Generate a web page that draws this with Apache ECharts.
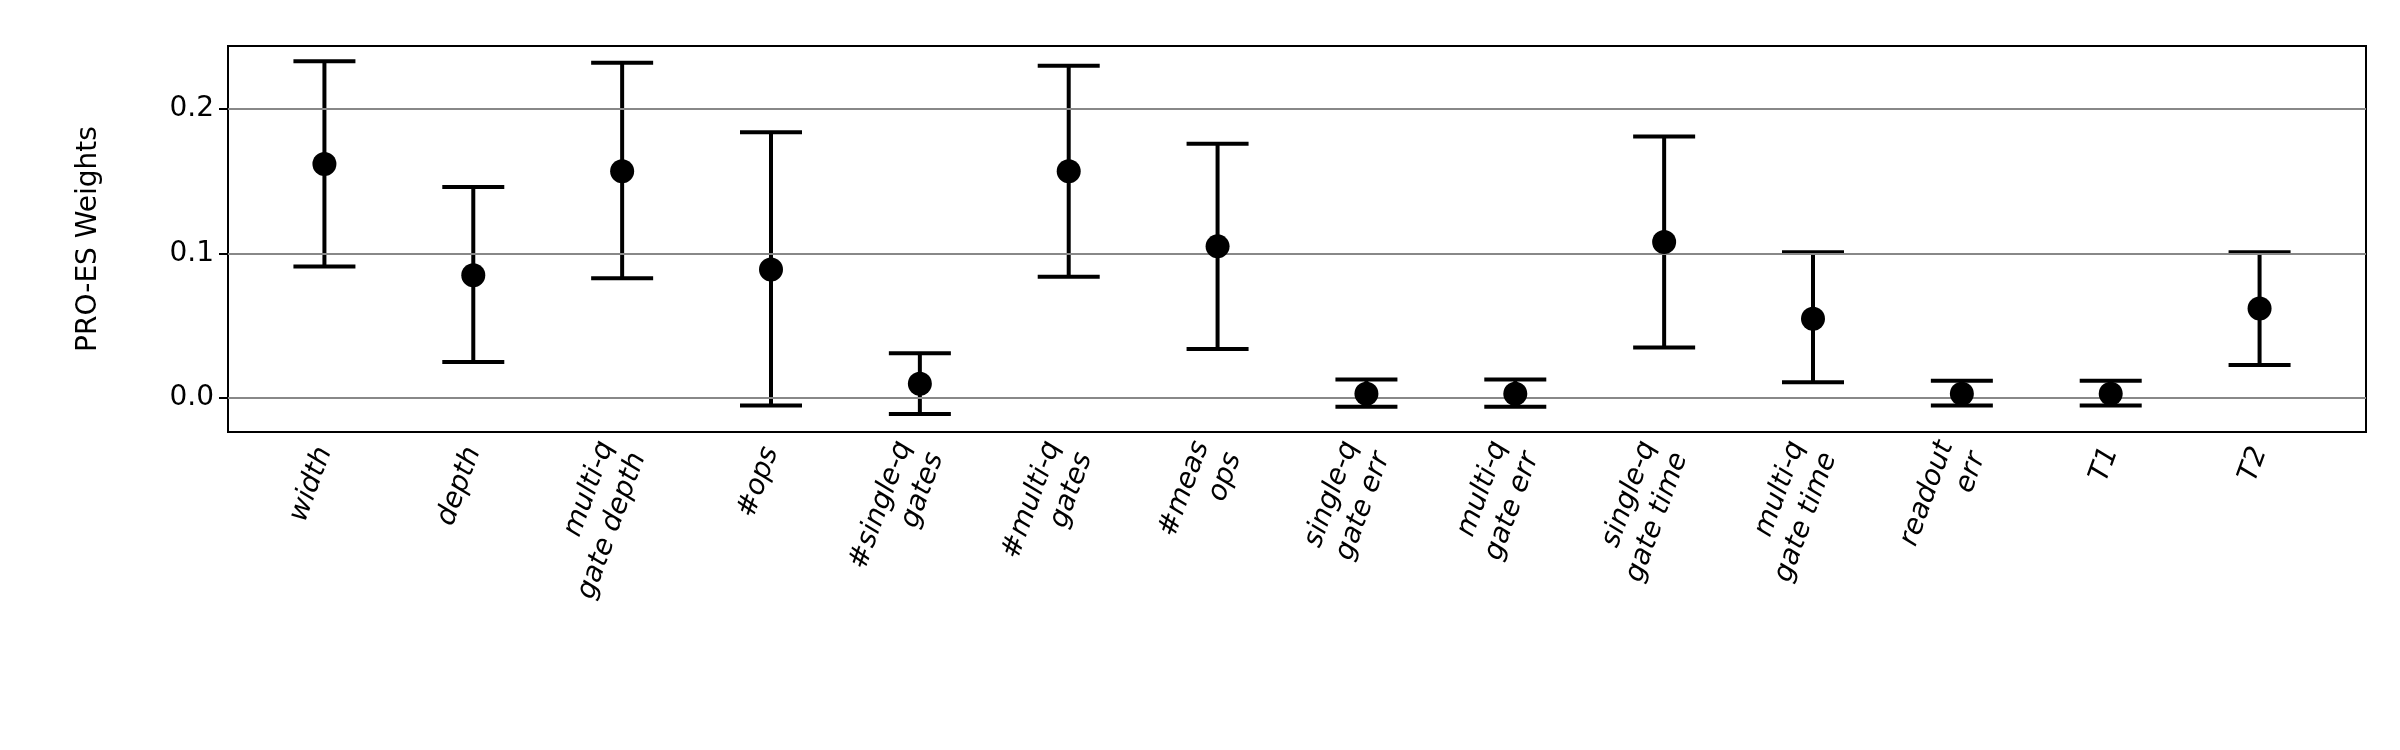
<!DOCTYPE html>
<html>
<head>
<meta charset="utf-8">
<script src="https://cdn.jsdelivr.net/npm/echarts@6/dist/echarts.min.js"></script>
<style>html,body{margin:0;background:#fff}#c{width:2400px;height:750px}</style>
</head>
<body>
<div id="c"></div>
<script>
// feature names
var features = ['width', 'depth', 'multi-q\ngate depth', '#ops', '#single-q\ngates', '#multi-q\ngates',
    '#meas\nops', 'single-q\ngate err', 'multi-q\ngate err', 'single-q\ngate time', 'multi-q\ngate time',
    'readout\nerr', 'T1', 'T2'];
// mean weight and error bar ends
var means = [0.162, 0.085, 0.157, 0.089, 0.010, 0.157, 0.105, 0.003, 0.003, 0.108, 0.055, 0.003, 0.003, 0.062];
var lows  = [0.091, 0.025, 0.083, -0.005, -0.011, 0.084, 0.034, -0.006, -0.006, 0.035, 0.011, -0.005, -0.005, 0.023];
var highs = [0.233, 0.146, 0.232, 0.184, 0.031, 0.230, 0.176, 0.013, 0.013, 0.181, 0.101, 0.012, 0.012, 0.101];
var yTicks = [0, 0.1, 0.2];

var yMin = -0.0234, yMax = 0.2436;
var errData = features.map(function (f, i) { return [i, lows[i], highs[i]]; });

var chart = echarts.init(document.getElementById('c'));
chart.setOption({
    animation: false,
    textStyle: {fontFamily: 'DejaVu Sans'},
    grid: [
        {left: 228, right: 34, top: 46, bottom: 318, show: true, borderColor: '#000', borderWidth: 2, backgroundColor: 'transparent'},
        {left: 250, right: 66, top: 46, bottom: 318}
    ],
    xAxis: [
        {gridIndex: 0, type: 'value', min: 0, max: 1, show: false},
        {
            gridIndex: 1, type: 'category', data: features, boundaryGap: true,
            axisLine: {show: false},
            axisTick: {alignWithLabel: true, length: 9, lineStyle: {color: '#000', width: 2}},
            axisLabel: {rotate: 70, fontSize: 28, fontStyle: 'italic', color: '#000', margin: 16,
                align: 'right', lineHeight: 34, interval: 0}
        }
    ],
    yAxis: [
        {
            gridIndex: 0, type: 'value', min: yMin, max: yMax,
            name: 'PRO-ES Weights', nameLocation: 'middle', nameGap: 125, nameRotate: 90,
            nameTextStyle: {fontSize: 28, color: '#000'},
            axisLine: {show: false},
            axisTick: {show: true, length: 9, lineStyle: {color: '#000', width: 2}, customValues: yTicks},
            axisLabel: {fontSize: 28, color: '#000', margin: 14, customValues: yTicks,
                formatter: function (v) { return v.toFixed(1); }},
            splitLine: {show: false}
        },
        {gridIndex: 1, type: 'value', min: yMin, max: yMax, show: false}
    ],
    series: [
        {
            type: 'line', xAxisIndex: 0, yAxisIndex: 0, data: [], silent: true,
            markLine: {
                symbol: 'none', silent: true, label: {show: false},
                lineStyle: {color: '#888', width: 2, type: 'solid'},
                data: yTicks.map(function (v) { return {yAxis: v}; })
            }
        },
        {
            type: 'custom', xAxisIndex: 1, yAxisIndex: 1, data: errData,
            renderItem: function (params, api) {
                var lo = api.coord([api.value(0), api.value(1)]);
                var hi = api.coord([api.value(0), api.value(2)]);
                var hw = 31;
                var st = {stroke: '#000', lineWidth: 4};
                return {type: 'group', children: [
                    {type: 'line', shape: {x1: lo[0], y1: lo[1], x2: hi[0], y2: hi[1]}, style: st},
                    {type: 'line', shape: {x1: lo[0] - hw, y1: lo[1], x2: lo[0] + hw, y2: lo[1]}, style: st},
                    {type: 'line', shape: {x1: hi[0] - hw, y1: hi[1], x2: hi[0] + hw, y2: hi[1]}, style: st}
                ]};
            }
        },
        {
            type: 'scatter', xAxisIndex: 1, yAxisIndex: 1, data: means, symbolSize: 24,
            itemStyle: {color: '#000', opacity: 1}, z: 5
        }
    ]
});
</script>
</body>
</html>
